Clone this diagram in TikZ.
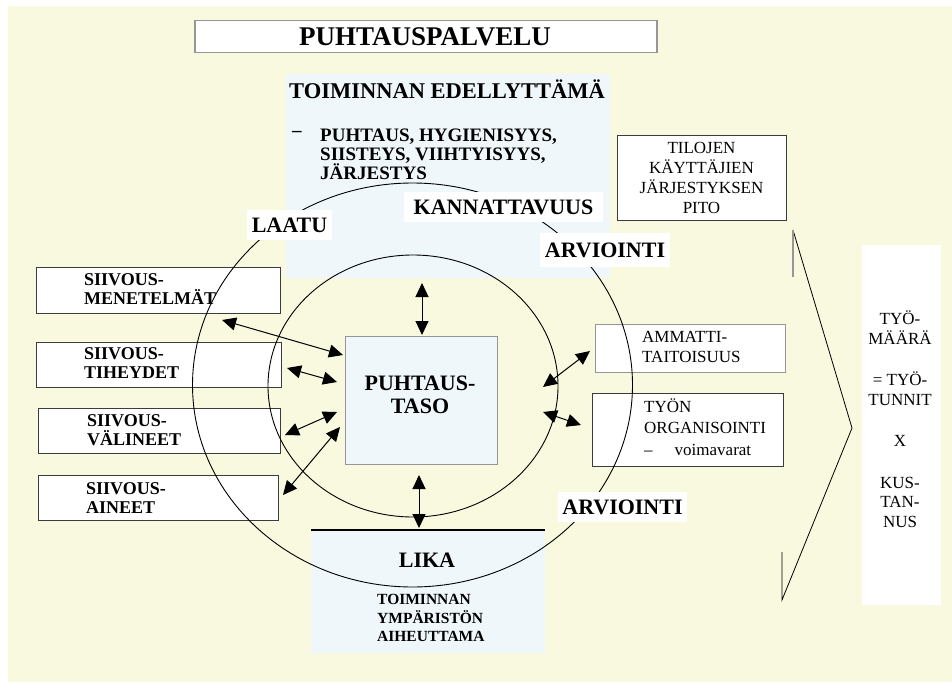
\documentclass[tikz,border=0pt]{standalone}
\usepackage{fontspec}
\setmainfont{Liberation Serif}
\usetikzlibrary{arrows.meta}
\definecolor{bgyellow}{RGB}{249,249,223}
\definecolor{paleblue}{RGB}{240,247,250}
\definecolor{boxline}{RGB}{60,60,60}
\definecolor{lightline}{RGB}{150,150,150}
\tikzset{
  box/.style={draw=boxline, line width=1pt, fill=white, anchor=north west, inner sep=0pt},
  boxtext/.style={anchor=west, align=left, inner sep=0pt, font=\fontsize{18}{19}\selectfont\bfseries},
  rtext/.style={anchor=west, align=left, inner sep=0pt, font=\fontsize{17}{21}\selectfont},
  lbl/.style={fill=white, inner sep=0pt, font=\fontsize{22}{24}\selectfont\bfseries},
  dbl/.style={{Triangle[length=14pt,width=13pt]}-{Triangle[length=14pt,width=13pt]}, line width=1pt},
  ring/.style={draw=black, line width=0.9pt},
}
\begin{document}
\begin{tikzpicture}[x=1pt,y=-1pt]
\useasboundingbox (0,0) rectangle (952,682);
\fill[bgyellow] (8,6) rectangle (952,682);

% title
\node[draw=lightline, line width=1.5pt, fill=white, minimum width=462pt, minimum height=32pt, anchor=north west, inner sep=0pt] (titlebox) at (194,20) {};
\node[inner sep=0pt, font=\fontsize{27}{30}\selectfont\bfseries] (title) at (425,37) {PUHTAUSPALVELU};

% pale blue areas
\node[fill=paleblue, minimum width=324pt, minimum height=204pt, anchor=north west, inner sep=0pt] (topblue) at (286,74) {};
\node[fill=paleblue, minimum width=234pt, minimum height=123pt, anchor=north west, inner sep=0pt] (likabox) at (311,530) {};
\draw[line width=1.2pt] (likabox.north west) -- (likabox.north east);
\node[fill=paleblue, draw=lightline, line width=0.8pt, minimum width=152pt, minimum height=128pt, anchor=north west, inner sep=0pt] (center) at (345,336) {};

% left boxes
\node[box, minimum width=244pt, minimum height=46pt] (b1) at (36,267) {};
\node[box, minimum width=245pt, minimum height=45pt] (b2) at (36,342) {};
\node[box, minimum width=242pt, minimum height=45pt] (b3) at (38,408) {};
\node[box, minimum width=240pt, minimum height=45pt] (b4) at (38,475) {};

% right boxes
\node[box, draw=lightline, minimum width=190pt, minimum height=48pt] (r1) at (595,324) {};
\node[box, minimum width=191pt, minimum height=73pt] (r2) at (592,393) {};
\node[box, minimum width=169pt, minimum height=85pt] (tilo) at (617,135) {};

% right column
\node[fill=white, minimum width=79pt, minimum height=360pt, anchor=north west, inner sep=0pt] (col) at (862,245) {};

% chevron
\coordinate (chA) at (793,230);
\coordinate (chB) at (852,428);
\coordinate (chC) at (782,600);
\coordinate (chD) at (793,277);
\coordinate (chE) at (782,552);
\draw[line width=0.8pt] (chA) -- (chB) -- (chC) -- (chE);
\draw[lightline, line width=2pt] (chA) -- (chD);

% rings
\draw[ring] (412.5,385) ellipse [x radius=220pt, y radius=202pt];
\draw[ring] (413,386) ellipse [x radius=145pt, y radius=131pt];

% labels on rings
\node[lbl, minimum width=85pt, minimum height=30pt] (laatu) at (289.5,225) {LAATU};
\node[lbl, minimum width=199pt, minimum height=30pt] (kann) at (503.5,207) {KANNATTAVUUS};
\node[lbl, minimum width=130pt, minimum height=34pt] (arv1) at (605,250) {ARVIOINTI};
\node[lbl, minimum width=129pt, minimum height=30pt] (arv2) at (622.5,507) {ARVIOINTI};

% texts
\node[inner sep=0pt, font=\fontsize{22.5}{24}\selectfont\bfseries] (edel) at (447,89) {TOIMINNAN EDELLYTTÄMÄ};
\node[inner sep=0pt, anchor=west, font=\fontsize{19}{19}\selectfont\bfseries] (dash1) at (292,134) {–};
\node[inner sep=0pt, anchor=west, align=left, font=\fontsize{19}{19}\selectfont\bfseries] (req) at (320,154) {PUHTAUS, HYGIENISYYS,\\SIISTEYS, VIIHTYISYYS,\\JÄRJESTYS};

\node[inner sep=0pt, align=center, font=\fontsize{22}{23}\selectfont\bfseries] (ctext) at (420,395) {PUHTAUS-\\TASO};

\node[inner sep=0pt, font=\fontsize{22}{24}\selectfont\bfseries] (lika) at (427,560) {LIKA};
\node[inner sep=0pt, anchor=west, align=left, font=\fontsize{15.5}{18.5}\selectfont\bfseries] (likatext) at (377,618) {TOIMINNAN\\YMPÄRISTÖN\\AIHEUTTAMA};

\node[boxtext] (t1) at (84,289) {SIIVOUS-\\MENETELMÄT};
\node[boxtext] (t2) at (84,363) {SIIVOUS-\\TIHEYDET};
\node[boxtext] (t3) at (87,430) {SIIVOUS-\\VÄLINEET};
\node[boxtext] (t4) at (86,498) {SIIVOUS-\\AINEET};

\node[rtext, font=\fontsize{17}{20}\selectfont] (rt1) at (642,347) {AMMATTI-\\TAITOISUUS};
\node[rtext, font=\fontsize{17}{21.5}\selectfont] (rt2) at (644,427) {TYÖN\\ORGANISOINTI\\–\hspace{22pt}voimavarat};
\node[inner sep=0pt, align=center, font=\fontsize{17}{20.3}\selectfont] (tilotext) at (701.5,178) {TILOJEN\\KÄYTTÄJIEN\\JÄRJESTYKSEN\\PITO};
\node[inner sep=0pt, align=center, font=\fontsize{17}{19.5}\selectfont] (coltext) at (900,419) {TYÖ-\\MÄÄRÄ\\[22pt]= TYÖ-\\TUNNIT\\[22pt]X\\[22pt]KUS-\\TAN-\\NUS};

% arrow end points
\coordinate (a1s) at (222,320); \coordinate (a1e) at (343,355);
\coordinate (a2s) at (287,368); \coordinate (a2e) at (337,382);
\coordinate (a3s) at (285,435); \coordinate (a3e) at (337,412);
\coordinate (a4s) at (283,495); \coordinate (a4e) at (340,427);
\coordinate (a5s) at (422,283); \coordinate (a5e) at (422,335);
\coordinate (a6s) at (419,475); \coordinate (a6e) at (419,528);
\coordinate (a7s) at (543,387); \coordinate (a7e) at (590,351);
\coordinate (a8s) at (543,412); \coordinate (a8e) at (581,425);

\draw[dbl] (a1s) -- (a1e);
\draw[dbl] (a2s) -- (a2e);
\draw[dbl] (a3s) -- (a3e);
\draw[dbl] (a4s) -- (a4e);
\draw[dbl] (a5s) -- (a5e);
\draw[dbl] (a6s) -- (a6e);
\draw[dbl] (a7s) -- (a7e);
\draw[dbl] (a8s) -- (a8e);
\end{tikzpicture}
\end{document}
